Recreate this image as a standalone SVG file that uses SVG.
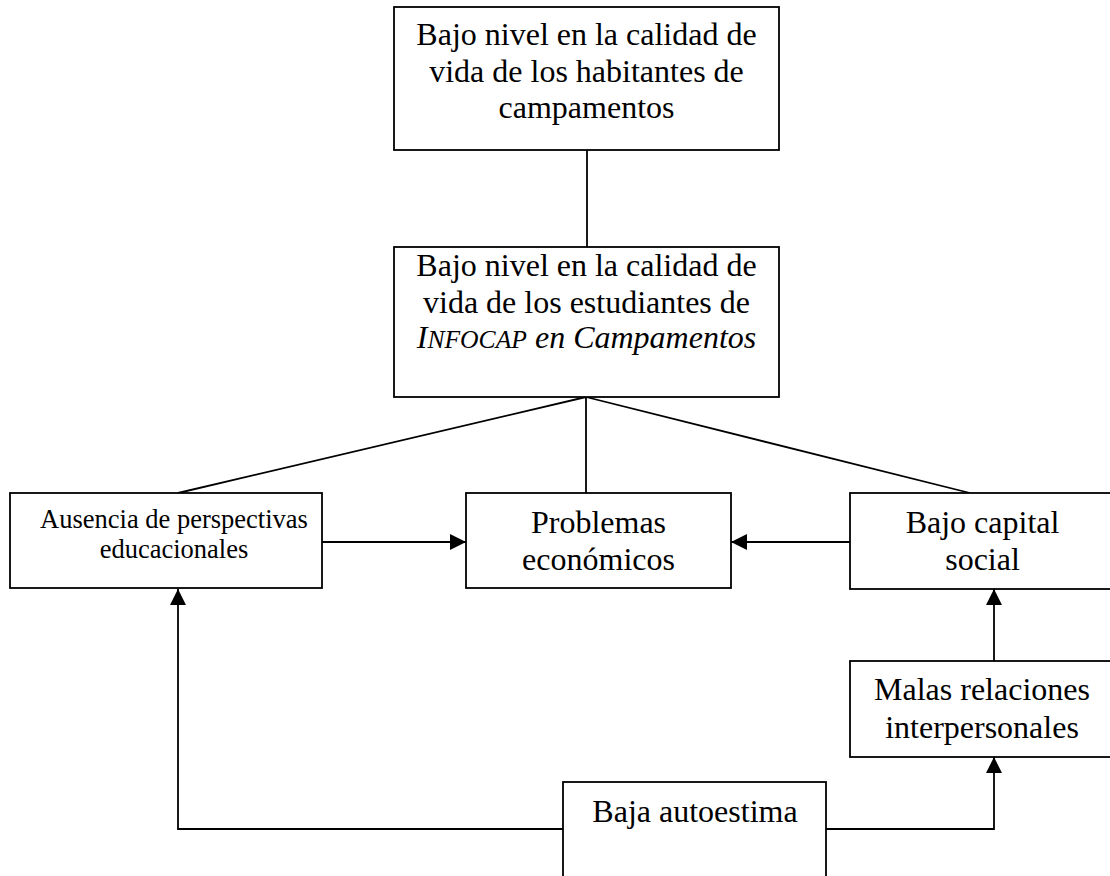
<svg xmlns="http://www.w3.org/2000/svg" width="1110" height="876" viewBox="0 0 1110 876">
<style>
.box{fill:#fff;stroke:#000;stroke-width:1.8}
.t{font-family:"Liberation Serif","Times New Roman",serif;font-size:32px;fill:#000;text-anchor:middle}
.s{font-size:26.5px}
.c{fill:none;stroke:#000;stroke-width:1.8}
</style>
<defs>
<marker id="ah" markerUnits="userSpaceOnUse" markerWidth="16" markerHeight="18" viewBox="0 0 16 18" refX="16" refY="9" orient="auto">
<path d="M0,1 L16,9 L0,17 Z" fill="#000"/>
</marker>
</defs>
<rect width="1110" height="876" fill="#fff"/>
<g id="connectors">
<line class="c" x1="587" y1="150" x2="587" y2="247"/>
<line class="c" x1="586" y1="397" x2="178" y2="493"/>
<line class="c" x1="586" y1="397" x2="586" y2="493"/>
<line class="c" x1="586" y1="397" x2="970" y2="493"/>
<line class="c" x1="322" y1="542" x2="466" y2="542" marker-end="url(#ah)"/>
<line class="c" x1="850" y1="542" x2="731" y2="542" marker-end="url(#ah)"/>
<line class="c" x1="994" y1="661" x2="994" y2="589" marker-end="url(#ah)"/>
<polyline class="c" points="563,829 178,829 178,589" marker-end="url(#ah)"/>
<polyline class="c" points="826,829 994,829 994,757" marker-end="url(#ah)"/>
</g>
<g id="n-habitantes">
<rect class="box" x="394" y="7" width="385" height="143"/>
<text class="t" x="586.5" y="45">Bajo nivel en la calidad de</text>
<text class="t" x="586.5" y="82">vida de los habitantes de</text>
<text class="t" x="586.5" y="118">campamentos</text>
</g>
<g id="n-estudiantes">
<rect class="box" x="394" y="247" width="385" height="150"/>
<text class="t" x="586.5" y="276">Bajo nivel en la calidad de</text>
<text class="t" x="586.5" y="313">vida de los estudiantes de</text>
<text class="t" x="586.5" y="348" font-style="italic">I<tspan font-size="25.6px">NFOCAP</tspan> en Campamentos</text>
</g>
<g id="n-ausencia">
<rect class="box" x="10" y="493" width="312" height="95"/>
<text class="t s" x="174" y="528">Ausencia de perspectivas</text>
<text class="t s" x="174" y="558">educacionales</text>
</g>
<g id="n-problemas">
<rect class="box" x="466" y="493" width="265" height="95"/>
<text class="t" x="598.5" y="533">Problemas</text>
<text class="t" x="598.5" y="570">económicos</text>
</g>
<g id="n-capital">
<rect class="box" x="850" y="493" width="264" height="96"/>
<text class="t" x="982.5" y="533">Bajo capital</text>
<text class="t" x="982.5" y="570">social</text>
</g>
<g id="n-malas">
<rect class="box" x="850" y="661" width="264" height="96"/>
<text class="t" x="982" y="700">Malas relaciones</text>
<text class="t" x="982" y="738">interpersonales</text>
</g>
<g id="n-autoestima">
<rect class="box" x="563" y="782" width="263" height="120"/>
<text class="t" x="695" y="822">Baja autoestima</text>
</g>
</svg>
